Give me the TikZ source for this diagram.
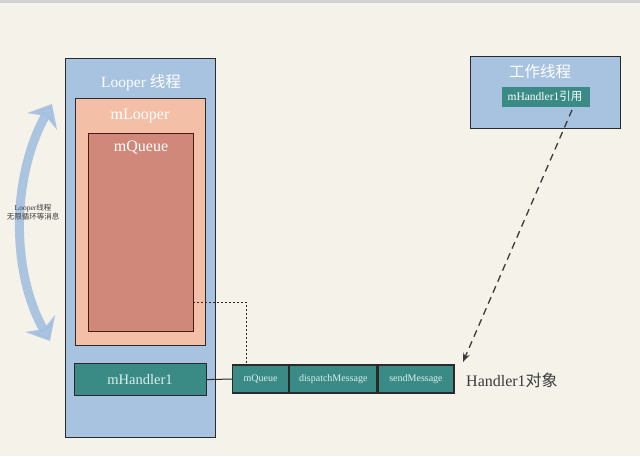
\documentclass[tikz,border=0pt]{standalone}
\usepackage{fontspec}
\setmainfont{Liberation Serif}
\newfontfamily\cjk{Noto Sans CJK SC}
\usetikzlibrary{arrows.meta}
\definecolor{bgc}{HTML}{F5F2EA}
\definecolor{lblue}{HTML}{A8C3E0}
\definecolor{salmon}{HTML}{F3BFA6}
\definecolor{qred}{HTML}{D0887A}
\definecolor{qborder}{HTML}{4A1A14}
\definecolor{teal}{HTML}{3A8B85}
\definecolor{tealtxt}{HTML}{D8F0EE}
\definecolor{arcblue}{HTML}{A3C0E0}
\definecolor{edge}{HTML}{2A2A2A}
\definecolor{dgray}{HTML}{3A3A3A}
\tikzset{
  box/.style={draw=edge, line width=1.2pt, inner sep=0pt, anchor=north west},
  lbl/.style={inner sep=0pt, font=\fontsize{16}{18}\selectfont, text=white},
  cell/.style={draw=edge, line width=1.2pt, fill=teal, text=tealtxt, minimum height=28pt, inner sep=0pt, font=\fontsize{10}{12}\selectfont},
}
\begin{document}
\begin{tikzpicture}[x=1pt,y=-1pt]
\fill[bgc] (0,0) rectangle (640,456);
\fill[gray!35] (0,0) rectangle (640,3);
\useasboundingbox (0,0) rectangle (640,456);
% Looper thread
\node[box, fill=lblue, minimum width=150pt, minimum height=379pt] (looper) at (65,58) {};
\node[lbl, font=\fontsize{15.5}{17}\selectfont] (looperT) at (141,83) {Looper {\cjk 线程}};
\node[box, fill=salmon, minimum width=130pt, minimum height=247pt] (mlooper) at (75,98) {};
\node[lbl] (mlooperT) at (140,116) {mLooper};
\node[box, draw=qborder, fill=qred, minimum width=105pt, minimum height=198pt] (mqueue) at (88,133) {};
\node[lbl] (mqueueT) at (141,147) {mQueue};
\node[box, fill=teal, minimum width=132pt, minimum height=32pt] (mh) at (74,363) {};
\node[inner sep=0pt, text=tealtxt, font=\fontsize{14.5}{16}\selectfont] (mhT) at (140,380) {mHandler1};
% Handler object
\node[cell, minimum width=56pt, anchor=west] (c1) at (232,379) {mQueue};
\node[cell, minimum width=87pt, anchor=west] (c2) at (c1.east) {dispatchMessage};
\node[cell, minimum width=76pt, anchor=west] (c3) at (c2.east) {sendMessage};
\node[inner sep=0pt, anchor=west, text=dgray, font=\fontsize{16}{18}\selectfont] (hobj) at (466,380) {Handler1{\cjk 对象}};
% worker thread
\node[box, fill=lblue, minimum width=150pt, minimum height=72pt] (worker) at (470,56) {};
\node[lbl, font=\fontsize{15.5}{17}\selectfont] (workerT) at (540,72) {\cjk 工作线程};
\node[box, draw=none, fill=teal, minimum width=88pt, minimum height=20pt] (ref) at (501,86) {};
\node[inner sep=0pt, text=white, font=\fontsize{11.5}{13}\selectfont] (refT) at (545,96) {mHandler1{\cjk 引用}};
% connectors
\draw[edge, line width=1pt] (mh.east) -- (c1.west);
\coordinate (qp) at (193,302);
\draw[edge, line width=1pt, dash pattern=on 2pt off 2pt] (qp) -- (246,302) -- (246,365);
\coordinate (rs) at (572,110);
\coordinate (re) at (463,362);
\draw[dgray, line width=1.3pt, dash pattern=on 7pt off 5pt, -{Stealth[length=9pt,width=7pt]}] (rs) -- (re);
% loop arc
\draw[arcblue, opacity=0.9, line width=9pt, {Stealth[length=20pt,width=34pt]}-{Stealth[length=20pt,width=34pt]}] (52,104) .. controls (12,175) and (10,270) .. (50,341);
\node[inner sep=0pt, text=dgray, align=center, font=\fontsize{7.5}{9.5}\selectfont] (loopT) at (33,212) {Looper{\cjk 线程}\\{\cjk 无限循环等消息}};
\end{tikzpicture}
\end{document}
